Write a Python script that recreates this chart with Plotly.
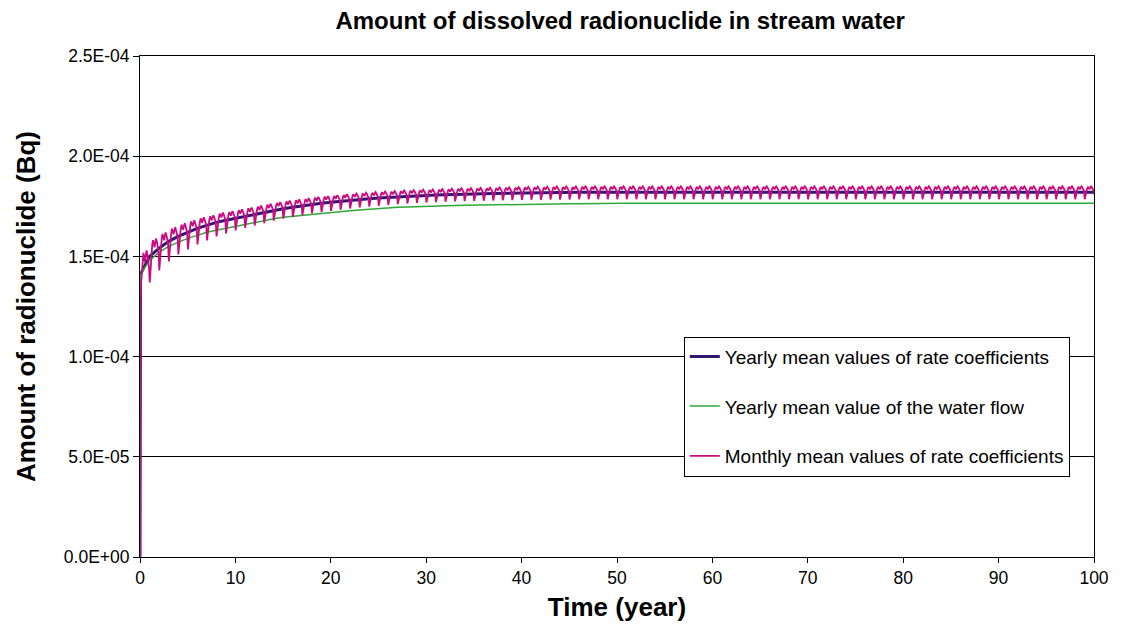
import plotly.graph_objects as go

# ---------------- data (values in units of 1E-04 Bq) ----------------
years = list(range(0, 101))

# yearly mean values of rate coefficients (value at each year)
navy_vals = [1.41, 1.50, 1.54, 1.575, 1.60, 1.62, 1.64, 1.655, 1.67, 1.68,
             1.69, 1.70, 1.71, 1.72, 1.73, 1.738, 1.745, 1.752, 1.76, 1.765,
             1.77, 1.775, 1.78, 1.784, 1.788, 1.791, 1.794, 1.797, 1.80, 1.802,
             1.804, 1.806, 1.808, 1.81, 1.811, 1.812, 1.813, 1.814, 1.815, 1.816,
             1.817, 1.818, 1.818, 1.819, 1.819, 1.819, 1.82, 1.82, 1.82, 1.82] + [1.82] * 51

# yearly mean value of the water flow
green_vals = [1.41, 1.48, 1.52, 1.55, 1.57, 1.59, 1.605, 1.62, 1.63, 1.64,
              1.65, 1.66, 1.67, 1.68, 1.688, 1.695, 1.70, 1.706, 1.711, 1.716,
              1.72, 1.724, 1.728, 1.732, 1.736, 1.74, 1.742, 1.745, 1.747, 1.749,
              1.75, 1.752, 1.753, 1.754, 1.755, 1.756, 1.757, 1.758, 1.759, 1.76,
              1.76, 1.761, 1.761, 1.762, 1.762, 1.763, 1.763, 1.764, 1.764, 1.765] + [1.765] * 51

# monthly mean values: yearly dip depth and peak height around the yearly level
dip_depth = [0.14, 0.13, 0.11, 0.10, 0.09, 0.085, 0.08, 0.075, 0.07, 0.065,
             0.06, 0.058, 0.056, 0.054, 0.052, 0.05, 0.048, 0.046, 0.045, 0.044,
             0.043, 0.042, 0.041, 0.040, 0.039, 0.038, 0.037, 0.036, 0.036, 0.035] + [0.035] * 70
peak_height = [0.12, 0.09, 0.08, 0.07, 0.065, 0.06, 0.055, 0.05, 0.048, 0.046,
               0.045, 0.044, 0.043, 0.042, 0.041, 0.04, 0.039, 0.038, 0.037, 0.036,
               0.035, 0.035, 0.034, 0.034, 0.033, 0.033, 0.032, 0.032, 0.031, 0.031] + [0.03] * 70
# shape of one year (12 months), -1 = deepest dip, +1 = highest peak
month_shape = [-1.0, -0.35, 0.2, 0.6, 0.9, 0.7, 0.5, 0.8, 1.0, 0.8, 0.55, 0.3]

y_tick_vals = [0, 0.5e-4, 1.0e-4, 1.5e-4, 2.0e-4, 2.5e-4]
y_tick_text = ["0.0E+00", "5.0E-05", "1.0E-04", "1.5E-04", "2.0E-04", "2.5E-04"]
x_tick_vals = [0, 10, 20, 30, 40, 50, 60, 70, 80, 90, 100]

SCALE = 1e-4

# ---------------- build series ----------------
t_year = [0.0] + [max(y, 0.05) for y in years]
navy_y = [0.0] + [v * SCALE for v in navy_vals]
green_y = [0.0] + [v * SCALE for v in green_vals]

t_month = [0.0]
mon_y = [0.0]
for y in range(100):
    for m, s in enumerate(month_shape):
        amp = dip_depth[y] if s < 0 else peak_height[y]
        t_month.append(y + (m + 0.3) / 12.0)
        mon_y.append((navy_vals[y] + s * amp) * SCALE)
t_month.append(100.0)
mon_y.append((navy_vals[100] + month_shape[0] * 0.3 * dip_depth[99]) * SCALE)

FONT = "Liberation Sans, Arial, sans-serif"

fig = go.Figure()
fig.add_trace(go.Scatter(x=t_year, y=navy_y, mode="lines",
                         name="Yearly mean values of rate coefficients",
                         line=dict(color="#2B1870", width=3), legendgroup="a"))
fig.add_trace(go.Scatter(x=t_year, y=green_y, mode="lines",
                         name="Yearly mean value of the water flow",
                         line=dict(color="#2EA836", width=1.5), legendgroup="b"))
fig.add_trace(go.Scatter(x=t_month, y=mon_y, mode="lines",
                         name="Monthly mean values of rate coefficients",
                         line=dict(color="#CC0A82", width=1.8), legendgroup="c"))

fig.update_layout(
    width=1121, height=633,
    margin=dict(l=140, r=17, t=56, b=76),
    paper_bgcolor="white", plot_bgcolor="white",
    font=dict(family=FONT, color="black", size=16),
    title=dict(text="<b>Amount of dissolved radionuclide in stream water</b>",
               x=0.5532, xanchor="center", y=1 - 21 / 633, yanchor="middle",
               font=dict(size=24, family=FONT, color="black")),
    showlegend=True,
    legend=dict(x=0.570, y=0.440, xanchor="left", yanchor="top",
                bgcolor="white", bordercolor="black", borderwidth=1,
                font=dict(size=19, family=FONT, color="black"),
                tracegroupgap=22, itemwidth=30),
    xaxis=dict(range=[0, 100], tickvals=x_tick_vals, ticks="outside", ticklen=5,
               tickcolor="black", showline=True, linecolor="black", linewidth=1,
               mirror=True, showgrid=False, zeroline=False,
               tickfont=dict(size=17.5, family=FONT),
               title=dict(text="<b>Time (year)</b>", font=dict(size=26, family=FONT), standoff=10)),
    yaxis=dict(range=[0, 2.5e-4], tickvals=y_tick_vals, ticktext=y_tick_text,
               ticks="outside", ticklen=6, tickcolor="black",
               showline=True, linecolor="black", linewidth=1, mirror=True,
               showgrid=True, gridcolor="black", gridwidth=1, zeroline=False,
               tickfont=dict(size=17.5, family=FONT), automargin=False,
               title=dict(text="<b>Amount of radionuclide (Bq)</b>", font=dict(size=26, family=FONT), standoff=20)),
)

fig.write_html("out.html")
